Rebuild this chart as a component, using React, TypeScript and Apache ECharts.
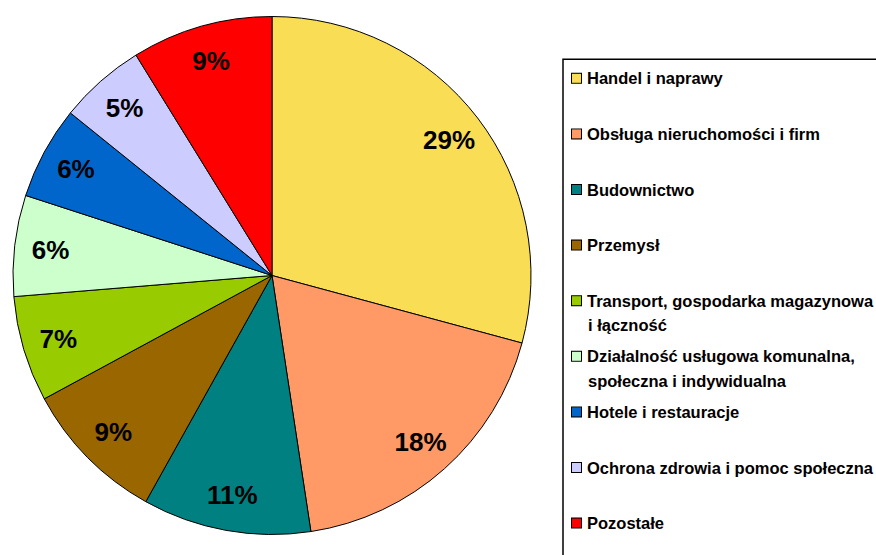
import React, { useEffect, useRef } from "react";
import * as echarts from "echarts";

const categories = [
  "Handel i naprawy",
  "Obsługa nieruchomości i firm",
  "Budownictwo",
  "Przemysł",
  "Transport, gospodarka magazynowa\ni łączność",
  "Działalność usługowa komunalna,\nspołeczna i indywidualna",
  "Hotele i restauracje",
  "Ochrona zdrowia i pomoc społeczna",
  "Pozostałe",
];
const values = [29.2, 18.4, 10.5, 9.0, 6.6, 6.3, 5.8, 5.4, 8.8];
const colors = [
  "#F9DD55",
  "#FF9966",
  "#008080",
  "#996600",
  "#99CC00",
  "#CCFFCC",
  "#0066CC",
  "#CCCCFF",
  "#FF0000",
];

export default function App() {
  const ref = useRef<HTMLDivElement>(null);
  useEffect(() => {
    if (!ref.current) return;
    const chart = echarts.init(ref.current, null, { renderer: "svg" });
    const names = categories.map((c) => c.replace("\n", " "));
    const data = names.map((n, i) => ({
      name: n,
      value: values[i],
      itemStyle: { color: colors[i] },
    }));
    const LH = 24.5;
    const rich: any = {
      g: { width: 6, height: 10, lineHeight: LH },
      s: { width: 16, height: 10, lineHeight: LH },
      t: {
        fontSize: 16.5,
        fontWeight: "bold",
        fontFamily: "Arial, 'Liberation Sans', sans-serif",
        color: "#000",
        lineHeight: LH,
      },
    };
    colors.forEach((c, i) => {
      rich["m" + i] = {
        width: 9,
        height: 9,
        backgroundColor: c,
        borderColor: "#000",
        borderWidth: 1,
        lineHeight: LH,
      };
    });
    const center = [272, 275.5];
    chart.setOption({
      animation: false,
      backgroundColor: "#fff",
      legend: {
        orient: "vertical",
        left: 563,
        top: 59.3,
        height: 1000,
        padding: [6.75, 20, 20, 4],
        data: names,
        icon: "none",
        itemWidth: 0,
        itemHeight: 2 * LH,
        itemGap: 6.6,
        selectedMode: false,
        backgroundColor: "#fff",
        borderColor: "#000",
        borderWidth: 1.5,
        textStyle: {
          fontSize: 16.5,
          fontWeight: "bold",
          fontFamily: "Arial, 'Liberation Sans', sans-serif",
          color: "#000",
          lineHeight: LH,
          rich,
        },
        formatter: (name: string) => {
          const i = names.indexOf(name);
          const parts = categories[i].split("\n");
          const l2 = parts[1] || " ";
          return `{m${i}|}{g|}{t|${parts[0]}}\n{s|}{t|${l2}}`;
        },
      },
      series: [
        {
          type: "pie",
          center,
          radius: 259,
          startAngle: 90,
          clockwise: true,
          silent: true,
          label: { show: false },
          labelLine: { show: false },
          itemStyle: { borderColor: "#000", borderWidth: 1 },
          emphasis: { disabled: true },
          data,
        },
        {
          type: "pie",
          center,
          radius: [181, 259],
          startAngle: 90,
          clockwise: true,
          silent: true,
          labelLine: { show: false },
          itemStyle: { color: "rgba(0,0,0,0)", borderWidth: 0 },
          emphasis: { disabled: true },
          label: {
            show: true,
            position: "inside",
            rotate: 0,
            overflow: "none",
            fontSize: 26,
            fontWeight: "bold",
            fontFamily: "Arial, 'Liberation Sans', sans-serif",
            color: "#000",
            formatter: (p: any) => Math.round(p.value) + "%",
          },
          data: names.map((n, i) => ({ name: n, value: values[i] })),
        },
      ],
    });
    return () => chart.dispose();
  }, []);
  return (
    <div
      ref={ref}
      style={{ position: "fixed", left: 0, top: 0, width: 876, height: 555 }}
    />
  );
}
